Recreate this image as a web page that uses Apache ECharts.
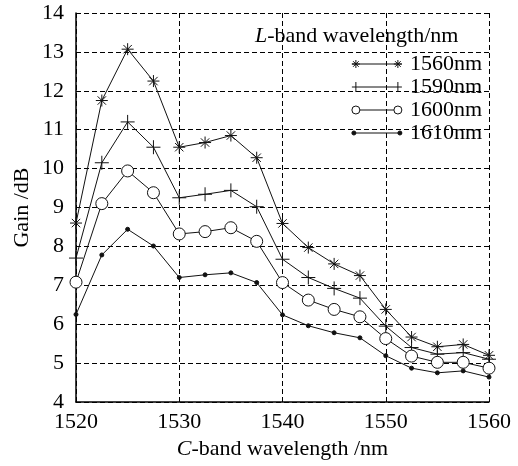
<!DOCTYPE html>
<html>
<head>
    <meta charset='utf-8' />
    <script src="https://cdn.jsdelivr.net/npm/echarts@6/dist/echarts.min.js"></script>
    <title>Gain vs C-band wavelength</title>
    <style>
        html, body { margin: 0; padding: 0; background: #fff; }
        #chart { width: 518px; height: 466px; }
    </style>
</head>
<body>
    <div id="chart"></div>
    <script type="text/javascript">
        // C-band wavelength (nm)
        var wavelengths = [1520, 1522.5, 1525, 1527.5, 1530, 1532.5, 1535, 1537.5, 1540,
            1542.5, 1545, 1547.5, 1550, 1552.5, 1555, 1557.5, 1560];
        var names = ['1560nm', '1590nm', '1600nm', '1610nm'];
        // gain (dB), one array per L-band wavelength
        var gain1560 = [8.6, 11.75, 13.07, 12.25, 10.55, 10.67, 10.85, 10.28, 8.59, 7.97, 7.55, 7.25, 6.38, 5.67, 5.42, 5.48, 5.2];
        var gain1590 = [7.7, 10.15, 11.2, 10.55, 9.25, 9.34, 9.44, 9.02, 7.67, 7.2, 6.92, 6.67, 5.95, 5.4, 5.23, 5.27, 5.1];
        var gain1600 = [7.08, 9.1, 9.94, 9.38, 8.32, 8.38, 8.48, 8.13, 7.07, 6.62, 6.38, 6.19, 5.63, 5.18, 5.02, 5.02, 4.87];
        var gain1610 = [6.25, 7.78, 8.44, 8.01, 7.2, 7.27, 7.32, 7.07, 6.24, 5.96, 5.78, 5.65, 5.19, 4.87, 4.75, 4.8, 4.64];
        var xTicks = [1520, 1530, 1540, 1550, 1560];

        var font = '"Liberation Serif", "DejaVu Serif", serif';
        var starPath = 'path://M5,0L5,10M0,5L10,5M1.5,1.5L8.5,8.5M1.5,8.5L8.5,1.5';
        var plusPath = 'path://M5,0L5,10M0,5L10,5';
        var ringPath = 'path://M0,5A5,5,0,1,1,10,5A5,5,0,1,1,0,5Z';

        // legend keys: a short line with the marker at both ends
        var legendIcons = [
            'path://M0,6L50,6M4,2L4,10M0,6L8,6M1.2,3.2L6.8,8.8M1.2,8.8L6.8,3.2M46,2L46,10M42,6L50,6M43.2,3.2L48.8,8.8M43.2,8.8L48.8,3.2',
            'path://M0,6L50,6M4,1L4,11M46,1L46,11',
            'path://M0,6A4,4,0,1,1,8,6A4,4,0,1,1,0,6M8,6L42,6M42,6A4,4,0,1,1,50,6A4,4,0,1,1,42,6',
            'path://M0,6L50,6M0,6A2,2,0,1,1,4,6A2,2,0,1,1,0,6M46,6A2,2,0,1,1,50,6A2,2,0,1,1,46,6'
        ];

        function pairs(values) {
            return wavelengths.map(function (w, i) { return [w, values[i]]; });
        }

        function makeSeries(name, values, symbol, size, fill) {
            return {
                name: name,
                type: 'line',
                data: pairs(values),
                symbol: symbol,
                symbolSize: size,
                showAllSymbol: true,
                lineStyle: { color: '#111', width: 1 },
                itemStyle: { color: fill, borderColor: '#111', borderWidth: 1 },
                emphasis: { disabled: true },
                z: 3
            };
        }

        var chart = echarts.init(document.getElementById('chart'));
        var option = {
            animation: false,
            backgroundColor: '#fff',
            textStyle: { fontFamily: font, color: '#000' },
            title: {
                text: '{i|L}-band wavelength/nm',
                left: 250,
                top: 20,
                textStyle: {
                    fontFamily: font, fontSize: 22, fontWeight: 'normal', color: '#000',
                    rich: { i: { fontFamily: font, fontSize: 22, fontStyle: 'italic', color: '#000' } }
                }
            },
            legend: {
                data: names.map(function (n, i) {
                    return {
                        name: n,
                        icon: legendIcons[i],
                        itemStyle: { color: i === 2 ? '#fff' : '#111', borderColor: '#111', borderWidth: 1 }
                    };
                }),
                orient: 'vertical',
                right: 31,
                top: 48,
                itemWidth: 50,
                itemHeight: 12,
                itemGap: 1,
                selectedMode: false,
                textStyle: { fontFamily: font, fontSize: 22, color: '#000', padding: [0, 0, 0, 3] }
            },
            grid: { left: 76, right: 29, top: 13, bottom: 64 },
            xAxis: {
                type: 'value',
                min: 1520,
                max: 1560,
                interval: 10,
                name: '{i|C}-band wavelength /nm',
                nameLocation: 'middle',
                nameGap: 34,
                nameTextStyle: {
                    fontFamily: font, fontSize: 22, color: '#000',
                    rich: { i: { fontFamily: font, fontSize: 22, fontStyle: 'italic', color: '#000' } }
                },
                axisLine: { lineStyle: { color: '#000', width: 1.5 } },
                axisTick: { show: false },
                axisLabel: {
                    fontFamily: font, fontSize: 22, color: '#000', margin: 9,
                    customValues: xTicks,
                    formatter: function (v) { return String(v); }
                },
                splitLine: { show: true, lineStyle: { color: '#000', type: [5, 3], width: 1 } }
            },
            yAxis: {
                type: 'value',
                min: 4,
                max: 14,
                interval: 1,
                name: 'Gain /dB',
                nameLocation: 'middle',
                nameGap: 43,
                nameMoveOverlap: false,
                nameTextStyle: { fontFamily: font, fontSize: 22, color: '#000' },
                axisLine: { show: true, lineStyle: { color: '#000', width: 1.5 } },
                axisTick: { show: false },
                axisLabel: { fontFamily: font, fontSize: 22, color: '#000', margin: 12 },
                splitLine: { show: true, lineStyle: { color: '#000', type: [5, 3], width: 1 } }
            },
            series: [
                makeSeries(names[0], gain1560, starPath, 12, '#111'),
                makeSeries(names[1], gain1590, plusPath, 14, '#111'),
                makeSeries(names[2], gain1600, ringPath, 12, '#fff'),
                makeSeries(names[3], gain1610, 'circle', 4, '#111')
            ]
        };
        chart.setOption(option);
    </script>
</body>
</html>
